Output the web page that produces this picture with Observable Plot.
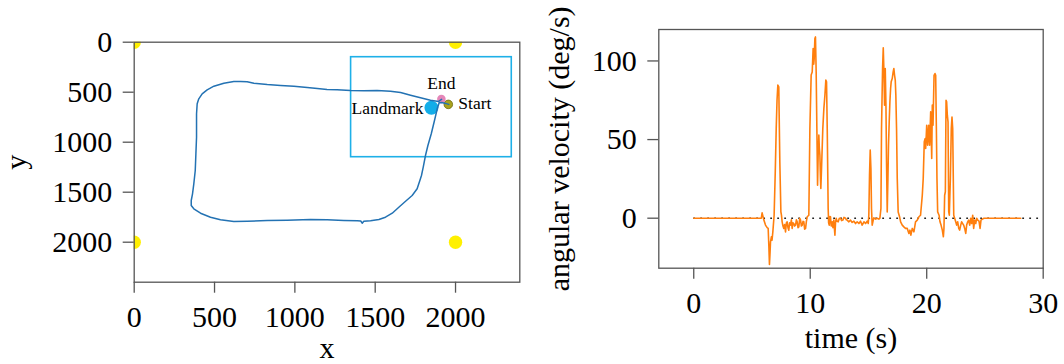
<!DOCTYPE html>
<html>
<head>
<meta charset="utf-8">
<script src="https://cdn.jsdelivr.net/npm/d3@7"></script>
<script src="https://cdn.jsdelivr.net/npm/@observablehq/plot@0.6"></script>
<style>
  html, body { margin: 0; padding: 0; background: white; }
  #wrap { position: relative; width: 1064px; height: 364px; overflow: hidden; background: white; }
  #wrap svg { position: absolute; top: 0; }
</style>
</head>
<body>
<div id="wrap"></div>
<script>
// ---------- Left panel: trajectory ----------
const trajX = [1958,1938,1915,1898,1886,1869,1849,1828,1813,1799,1788,1778,1761,1730,1689,1647,1606,1564,1523,1471,1429,1419,1410,1388,1305,1201,1097,952,828,703,620,537,475,413,371,355,355,363,371,380,384,388,388,392,402,423,454,496,558,620,662,703,745,828,911,994,1077,1140,1200,1263,1346,1429,1512,1595,1658,1720,1782,1844,1895,1913];
const trajY = [622,612,603,605,666,783,916,1033,1133,1250,1333,1383,1466,1533,1590,1650,1710,1750,1773,1786,1790,1810,1788,1786,1783,1776,1774,1780,1783,1790,1793,1776,1750,1710,1666,1633,1583,1516,1416,1283,1116,950,716,616,566,516,476,440,410,393,393,396,410,423,432,440,452,463,472,476,483,486,483,490,503,530,556,580,592,572];

const cornerX = [0, 2000, 0, 2000];
const cornerY = [0, 0, 2000, 2000];

const landmarkXY = [1850, 655];
const startXY = [1955, 622];
const endXY = [1912, 568];
const boxX = [1350, 2350];
const boxY = [150, 1150];

const trajTicks = [0, 500, 1000, 1500, 2000];
const trajDomain = [0, 2400];

// ---------- Right panel: angular velocity ----------
const timeS = [0,5.80,5.87,5.95,6.02,6.16,6.30,6.39,6.45,6.50,6.55,6.59,6.67,6.72,6.79,6.90,7.00,7.08,7.15,7.22,7.30,7.39,7.48,7.53,7.59,7.66,7.73,7.80,7.88,7.95,8.02,8.09,8.16,8.23,8.31,8.38,8.45,8.52,8.59,8.66,8.74,8.81,8.88,8.95,9.02,9.10,9.17,9.24,9.31,9.38,9.45,9.52,9.60,9.67,9.74,9.88,9.97,10.08,10.17,10.25,10.30,10.34,10.40,10.45,10.51,10.57,10.63,10.68,10.74,10.78,10.83,10.88,10.91,10.97,11.08,11.17,11.26,11.34,11.40,11.46,11.54,11.58,11.63,11.68,11.74,11.80,11.89,11.95,12.03,12.08,12.12,12.17,12.23,12.30,12.40,12.50,12.60,12.70,12.80,12.90,13.03,13.10,13.17,13.32,13.46,13.60,13.75,13.89,14.03,14.18,14.32,14.46,14.61,14.75,14.89,14.98,15.03,15.09,15.15,15.21,15.26,15.32,15.41,15.46,15.61,15.75,15.89,15.98,16.07,16.12,16.21,16.27,16.32,16.38,16.44,16.50,16.55,16.61,16.67,16.72,16.78,16.84,16.90,16.95,17.04,17.12,17.18,17.24,17.30,17.35,17.41,17.47,17.55,17.67,17.76,17.90,18.04,18.18,18.33,18.47,18.56,18.64,18.76,18.90,19.04,19.19,19.33,19.47,19.62,19.70,19.79,19.87,19.91,20.00,20.08,20.17,20.25,20.34,20.43,20.48,20.54,20.63,20.71,20.77,20.83,20.88,20.94,21.06,21.14,21.23,21.34,21.43,21.48,21.54,21.60,21.66,21.71,21.77,21.83,21.89,21.94,22.03,22.11,22.17,22.23,22.32,22.40,22.49,22.57,22.66,22.75,22.83,22.92,23.00,23.09,23.17,23.26,23.35,23.43,23.52,23.60,23.69,23.78,23.86,23.95,24.03,24.12,24.21,24.29,24.38,24.49,24.58,24.66,24.78,24.92,25.06,28.07];
const angVel = [0,0,3.4,1.0,-1.2,-4.4,-6.0,-6.5,-18,-29.4,-22,-15.0,-11.8,-14,-8.7,1.9,30,57,75,84.6,83.5,35.8,4.1,2,-2.3,-5,-6.5,-4,-8.7,-3,-2.3,-6,-7.6,-3,-4.4,-1,-6.5,-3,-3.4,-5,-4.4,-1,-2.3,-6,-5.5,0,-1.2,-5,-4.4,-2,-2.3,-7,-6.5,-2,0.9,1.9,57,91,93,107.9,98,101.5,114.2,115.3,93,57,21,40,52.8,45,40,25,18.9,31.6,57,69.7,78.2,87.8,86.7,57,6.2,-3,-4.4,1,0.9,-5,-2.3,-6,-1.2,-7,-10.8,-3,0,-2,-2.3,0,0,-1.5,-1.2,0.5,0,-1,-1.2,-2.3,-1.2,-2.7,-1.9,-3.4,-2.3,-3.4,-1.9,-4.4,-2.3,-3.4,-1.9,-3.4,1.9,27.4,43.3,31.6,6.2,-4.4,-1.2,0.2,-0.6,0,-0.6,0,6.2,57,95.2,108.3,95.2,71.9,95.2,71.9,35.8,4,25.2,46.4,61.3,74,82.5,86.7,88.8,93.1,95.2,90.9,87.8,78.2,57,25.2,4,0.9,-2.3,-4.4,-5.5,-6.5,-6.5,-9.7,-7.6,-10.8,-6.5,-8.7,-2.3,-1.2,0.9,1.9,14.6,25.2,48.6,50.7,44.3,59.1,46.4,59.1,46.4,67.6,38,71.9,59.1,90.9,92,90.9,57,25.2,4,1.9,-2.3,-4.4,-7.6,-11.8,-6.5,14.6,16.8,75,74,65.5,61.3,4,1.9,25.2,57,64.4,57,1.9,0,-2.3,-4.4,-2.3,-6.5,-7.6,-4.4,-2.3,-3.4,-4.4,-6.5,-9.7,-4.4,-2.3,-1.2,-4.4,0,-3.4,1.9,-6.5,-1.2,-3.4,0,-1.2,-1.9,-6.5,-1.2,-0.6,0,0,0];

const timeTicks = [0, 10, 20, 30];
const velTicks = [0, 50, 100];
const timeDomain = [-3, 30];
const velDomain = [-31.8, 120];
const zeroSpan = [0, 30];

// ---------- build ----------
const FONT = "Liberation Serif";
const SPINE = "#555";

const traj = trajX.map((x, i) => ({x, y: trajY[i]}));
const corners = cornerX.map((x, i) => ({x, y: cornerY[i]}));
const series = timeS.map((t, i) => ({t, v: angVel[i]}));

const left = Plot.plot({
  width: 540, height: 364,
  marginLeft: 133.7, marginRight: 20.7, marginTop: 41.7, marginBottom: 82.3,
  style: {fontFamily: FONT, fontSize: "30px", background: "transparent", color: "black"},
  x: {domain: trajDomain, label: "x"},
  y: {domain: trajDomain, reverse: true, label: "y"},
  marks: [
    Plot.rect([{x1: boxX[0], x2: boxX[1], y1: boxY[0], y2: boxY[1]}], {x1: "x1", x2: "x2", y1: "y1", y2: "y2", fill: "none", stroke: "#1eb0e8", strokeWidth: 1.6}),
    Plot.dot(corners, {x: "x", y: "y", r: 6.7, fill: "#fff000", stroke: "none", clip: true}),
    Plot.dot([{x: landmarkXY[0], y: landmarkXY[1]}], {x: "x", y: "y", r: 7, fill: "#12ade9", stroke: "none"}),
    Plot.dot([{x: startXY[0], y: startXY[1]}], {x: "x", y: "y", r: 4.3, fill: "#a8a21c", stroke: "#6f6a10", strokeWidth: 0.8}),
    Plot.dot([{x: endXY[0], y: endXY[1]}], {x: "x", y: "y", r: 4.3, fill: "#e486b8", stroke: "none"}),
    Plot.line(traj, {x: "x", y: "y", stroke: "#2372b3", strokeWidth: 1.5}),
    Plot.text([{x: landmarkXY[0], y: landmarkXY[1], s: "Landmark"}], {x: "x", y: "y", text: "s", textAnchor: "end", dx: -8, dy: 1, fontSize: 17.5, fill: "black"}),
    Plot.text([{x: startXY[0], y: startXY[1], s: "Start"}], {x: "x", y: "y", text: "s", textAnchor: "start", dx: 10, dy: -1, fontSize: 17.5, fill: "black"}),
    Plot.text([{x: endXY[0], y: endXY[1], s: "End"}], {x: "x", y: "y", text: "s", lineAnchor: "bottom", dy: -10, fontSize: 17.5, fill: "black"}),
    Plot.frame({stroke: SPINE, strokeWidth: 1.3}),
    Plot.axisX({ticks: trajTicks, tickSize: 11, tickPadding: 12, stroke: SPINE, strokeWidth: 1.3, fill: "black", tickFormat: d => String(d), label: "x", labelAnchor: "center", labelOffset: 76, labelArrow: "none"}),
    Plot.axisY({ticks: trajTicks, tickSize: 11, tickPadding: 11, stroke: SPINE, strokeWidth: 1.3, fill: "black", tickFormat: d => String(d), label: "y", labelAnchor: "center", labelOffset: 130, labelArrow: "none"})
  ]
});
left.style.left = "0px";

const right = Plot.plot({
  width: 524, height: 364,
  marginLeft: 118.3, marginRight: 21.3, marginTop: 29, marginBottom: 96.3,
  style: {fontFamily: FONT, fontSize: "30px", background: "transparent", color: "black"},
  x: {domain: timeDomain, label: "time (s)"},
  y: {domain: velDomain, label: "angular velocity (deg/s)"},
  marks: [
    Plot.ruleY([0], {x1: zeroSpan[0], x2: zeroSpan[1], stroke: "#222", strokeWidth: 1.6, strokeDasharray: "1.8,5.2"}),
    Plot.line(series, {x: "t", y: "v", stroke: "#ff7f0e", strokeWidth: 1.6}),
    Plot.frame({stroke: SPINE, strokeWidth: 1.3}),
    Plot.axisX({ticks: timeTicks, tickSize: 11, tickPadding: 12, stroke: SPINE, strokeWidth: 1.3, fill: "black", tickFormat: d => String(d), label: "time (s)", labelAnchor: "center", labelOffset: 80, labelArrow: "none"}),
    Plot.axisY({ticks: velTicks, tickSize: 11, tickPadding: 11, stroke: SPINE, strokeWidth: 1.3, fill: "black", tickFormat: d => String(d), label: "angular velocity (deg/s)", labelAnchor: "center", labelOffset: 111, labelArrow: "none"})
  ]
});
right.style.left = "540px";

const wrap = document.getElementById("wrap");
wrap.appendChild(left);
wrap.appendChild(right);
</script>
</body>
</html>
